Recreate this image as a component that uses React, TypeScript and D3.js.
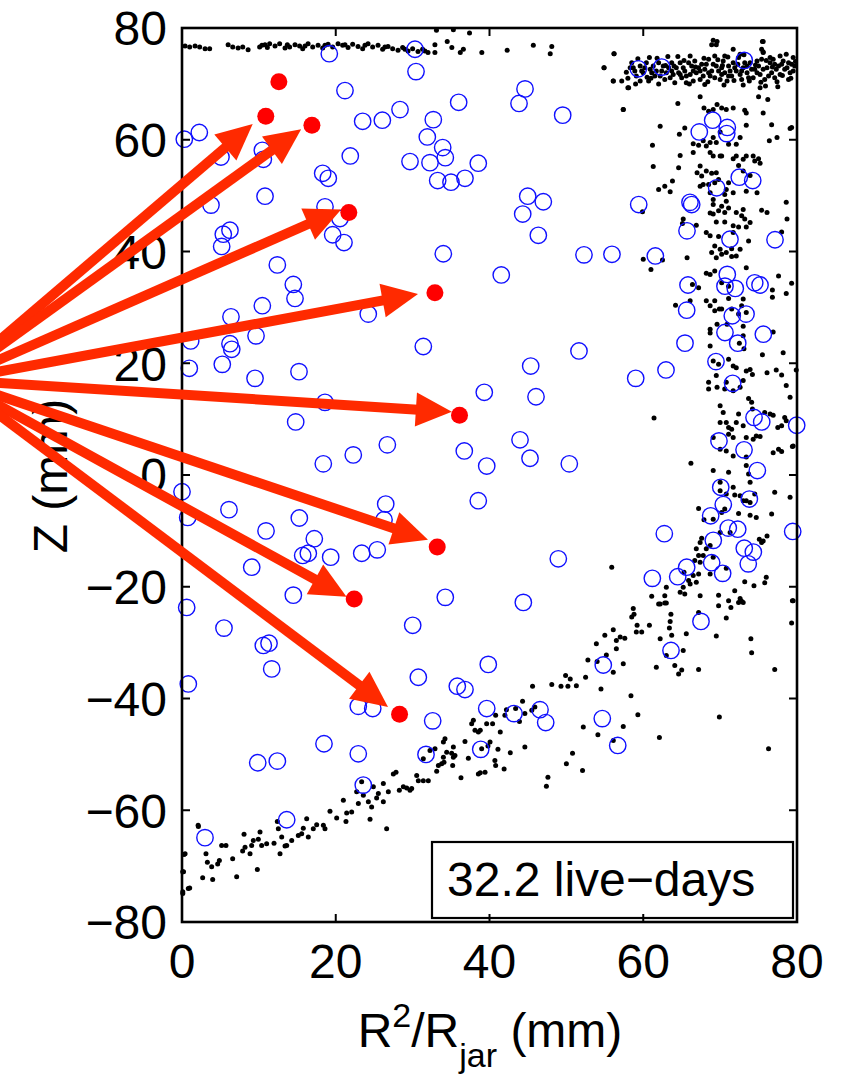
import React from "react";
import * as d3 from "d3";

const W = 848;
const H = 1079;

const xTicks = [0, 20, 40, 60, 80];
const yTicks = [-80, -60, -40, -20, 0, 20, 40, 60, 80];
const legendText = "32.2 live\u2212days";

// red reconstructed positions
const redDots: [number, number][] = [
  [12.6, 70.4], [10.9, 64.2], [16.9, 62.6], [21.7, 47.0], [32.9, 32.6],
  [36.1, 10.7], [33.2, -12.9], [22.4, -22.2], [28.3, -42.8],
];
// arrow source and tips
const arrowOrigin: [number, number] = [-29.8, 17.0];
const arrowTips: [number, number][] = [
  [9.2, 62.8], [15.5, 61.9], [20.7, 47.5], [30.7, 32.4],
  [35.1, 11.3], [32.0, -11.6], [21.4, -21.8], [26.8, -41.5],
];

// blue circles (events)
const blueEvents: [number, number][] = [
  [0.3, 60.1], [2.25, 61.3], [5.07, 56.9], [10.45, 58.1], [10.58, 56.5], [19.16, 75.4], [21.2, 68.8],
  [23.5, 63.3], [26.06, 63.5], [28.36, 65.4], [30.31, 76.2], [30.44, 72.2], [35.99, 66.7], [32.69, 63.6],
  [31.91, 60.5], [33.91, 58.6], [34.25, 56.8], [29.66, 56.1], [32.26, 55.9], [38.54, 55.8], [33.26, 52.7],
  [34.99, 52.4], [36.81, 53.1], [21.89, 57.1], [18.3, 54.0], [19.03, 53.1], [10.8, 49.9], [3.77, 48.3],
  [5.37, 43.1], [6.24, 43.8], [5.16, 40.9], [18.6, 48.0], [20.55, 45.9], [19.6, 43.0], [21.07, 41.6],
  [33.99, 39.6], [12.4, 37.6], [14.48, 34.1], [14.7, 31.6], [10.45, 30.3], [6.37, 28.3], [24.23, 28.8],
  [59.36, 72.7], [62.4, 73.0], [73.14, 74.2], [44.62, 69.1], [43.84, 66.5], [49.52, 64.4], [69.03, 63.5],
  [67.29, 61.4], [70.93, 62.2], [70.86, 61.1], [72.49, 53.3], [74.24, 52.7], [69.55, 51.4], [44.97, 49.9],
  [47.0, 48.9], [44.32, 46.7], [46.35, 42.9], [59.41, 48.4], [66.3, 48.4], [66.08, 48.8], [65.69, 43.7],
  [71.28, 42.2], [77.14, 42.1], [52.29, 39.4], [55.93, 39.5], [61.57, 39.2], [41.53, 35.8], [65.82, 34.0],
  [70.93, 35.9], [70.63, 33.8], [71.97, 33.4], [74.5, 34.4], [75.19, 34.0], [65.65, 29.5], [71.58, 28.5],
  [73.37, 28.8],
  [1.13, 24.0], [6.24, 23.5], [6.47, 22.5], [9.63, 24.9], [0.95, 19.1], [5.24, 19.8], [9.5, 17.3],
  [15.22, 18.5], [31.39, 23.0], [18.6, 13.0], [14.79, 9.5], [26.71, 5.4], [22.28, 3.6], [18.38, 2.0],
  [36.72, 4.3], [39.32, 14.8], [39.64, 1.6], [38.54, -4.6], [0.0, -3.0], [0.74, -7.6], [6.11, -6.2],
  [15.26, -7.7], [10.93, -10.0], [17.21, -11.4], [15.7, -14.4], [16.43, -14.0], [19.34, -14.7],
  [23.38, -14.0], [25.4, -13.4], [26.5, -5.2], [26.28, -8.0], [9.07, -16.5], [14.48, -21.5],
  [34.25, -21.9], [0.61, -23.7],
  [70.63, 25.5], [72.29, 23.6], [75.62, 25.2], [65.43, 23.6], [51.64, 22.2], [45.36, 19.5], [46.05, 14.0],
  [59.02, 17.3], [62.96, 18.8], [69.46, 20.3], [71.63, 16.4], [43.97, 6.3], [45.27, 3.0], [50.38, 2.0],
  [74.41, 10.3], [75.41, 9.5], [79.96, 8.9], [69.85, 6.1], [73.11, 4.5], [74.84, 0.8], [70.08, -2.2],
  [73.8, -4.3], [70.41, -5.3], [68.77, -7.3], [71.06, -9.5], [72.29, -9.7], [62.74, -10.5], [79.44, -10.1],
  [69.11, -11.7], [73.14, -13.1], [74.32, -13.8], [68.9, -15.7], [73.66, -15.9], [70.33, -17.6],
  [65.65, -16.5], [64.48, -18.2], [61.18, -18.5], [48.95, -15.0], [44.4, -22.8],
  [5.46, -27.4], [10.58, -30.5], [11.32, -30.1], [11.67, -34.7], [0.82, -37.4], [30.01, -26.9],
  [30.74, -36.2], [22.93, -41.4], [24.81, -41.8], [35.81, -37.8], [36.81, -38.4], [39.84, -33.9],
  [39.64, -41.8], [32.61, -44.0], [18.47, -48.1], [22.93, -49.9], [9.85, -51.5], [12.4, -51.2],
  [31.74, -50.0], [38.86, -49.1], [23.58, -55.5], [13.62, -61.7], [2.99, -64.9],
  [67.51, -26.2], [63.61, -31.4], [54.8, -34.0], [43.19, -42.7], [46.57, -42.0], [47.31, -44.3],
  [54.67, -43.6], [56.68, -48.4],
];

// black dots: top band
const topBandDots: [number, number][] = [
  [0.4, 76.8], [1.0, 76.6], [1.7, 76.8], [2.3, 76.6], [3.0, 76.3], [3.6, 76.3],
  [6.0, 77.0], [6.6, 76.6], [7.3, 76.4], [7.9, 76.6], [8.6, 76.1],
  [10.1, 76.6], [10.4, 76.9], [10.8, 77.0], [11.1, 76.5], [11.4, 77.2], [12.1, 76.8], [12.7, 77.2],
  [13.4, 76.4], [13.7, 77.0], [14.0, 76.6], [14.7, 77.0], [15.3, 76.8], [15.7, 76.3], [16.0, 76.8],
  [16.4, 77.2], [17.0, 76.6], [17.7, 76.9], [18.3, 76.4], [18.6, 76.9], [19.0, 77.1], [19.6, 76.6],
  [20.3, 77.2], [20.9, 76.9], [21.2, 77.0], [21.6, 76.5], [22.2, 77.1], [22.9, 76.7], [23.5, 76.3],
  [23.8, 76.9], [24.2, 77.2], [24.8, 76.6], [25.5, 76.9], [26.1, 76.2], [26.4, 76.6], [26.8, 76.7],
  [27.4, 76.3], [28.1, 76.0], [28.7, 76.5], [29.0, 76.2], [29.4, 75.9], [30.0, 76.3], [30.7, 75.8],
  [31.3, 76.2], [31.6, 75.9], [32.0, 75.6],
  [32.9, 77.0], [32.9, 75.6], [34.5, 77.6], [35.1, 76.5], [36.2, 75.6], [36.6, 76.2],
  [33.1, 79.6], [35.3, 79.7], [37.4, 79.1],
  [39.0, 75.6], [42.3, 76.0], [45.7, 76.9], [47.9, 75.4], [48.1, 76.7], [56.2, 75.4], [54.9, 72.9],
  [56.1, 70.5], [57.4, 65.4], [58.0, 69.3],
];

// black dots: top-right cluster
const topClusterDots: [number, number][] = [
  [54.9, 72.9], [56.2, 75.4], [56.1, 70.5], [57.2, 70.5], [57.8, 72.1], [58.1, 69.3], [57.4, 65.4],
  [58.5, 73.8], [58.9, 72.3], [59.6, 73.2], [60.0, 72.0], [60.4, 73.8], [59.6, 70.5], [60.7, 70.5],
  [60.9, 72.6], [61.5, 71.4], [62.0, 73.8], [62.4, 72.3], [62.8, 70.8], [63.3, 72.9], [63.7, 73.8],
  [63.9, 71.7], [64.1, 70.2], [63.5, 71.1], [64.6, 72.0], [64.8, 73.8], [65.2, 72.9], [65.6, 71.4],
  [66.1, 75.0], [66.3, 73.2], [66.7, 74.1], [66.9, 72.0], [67.4, 70.8], [67.6, 73.5], [66.5, 70.5],
  [65.6, 70.2], [68.0, 72.6], [68.5, 74.4], [68.7, 71.4], [69.1, 73.5], [69.3, 75.0], [69.8, 72.3],
  [70.0, 70.8], [70.4, 74.1], [70.6, 72.0], [71.1, 73.2], [70.9, 70.5], [69.5, 77.0], [68.9, 77.0],
  [71.5, 71.4], [71.7, 73.8], [72.1, 72.3], [72.4, 74.7], [72.8, 70.8], [73.0, 72.9], [73.5, 72.0],
  [73.9, 73.8], [74.3, 71.1], [74.5, 72.6], [71.7, 76.2], [72.6, 75.3], [75.0, 73.2], [75.2, 71.7],
  [75.4, 74.4], [75.6, 77.6], [75.8, 70.8], [76.1, 72.9], [76.5, 73.8], [76.7, 72.0], [76.9, 74.4],
  [77.1, 71.1], [75.4, 76.2], [75.6, 75.6], [77.6, 73.2], [77.8, 71.7], [78.2, 74.1], [78.4, 72.6],
  [78.9, 73.8], [79.1, 72.0], [79.5, 74.7], [79.7, 73.2], [78.9, 70.8], [77.8, 75.0],
  [58.3, 72.9], [59.1, 71.4], [60.2, 72.9], [61.3, 73.2], [61.7, 72.3], [62.2, 71.4], [62.6, 73.2],
  [63.0, 72.0], [64.3, 72.9], [65.0, 71.1], [65.4, 72.3], [65.9, 73.8], [66.5, 72.3], [67.2, 72.9],
  [67.8, 71.4], [68.2, 73.5], [68.9, 72.3], [69.3, 71.1], [69.5, 73.2], [70.2, 72.9], [70.6, 75.0],
  [71.3, 72.3], [71.9, 72.9], [72.6, 71.7], [73.2, 73.8], [73.7, 71.1], [74.1, 72.6], [74.8, 74.1],
  [74.8, 72.0], [75.6, 72.6], [76.3, 71.4], [76.5, 74.7], [77.3, 72.6], [78.0, 73.5], [78.7, 72.9],
  [79.3, 73.5], [79.5, 72.3], [77.1, 73.5], [73.5, 73.2], [72.8, 72.3], [71.1, 71.4], [70.2, 71.7],
  [68.5, 72.0], [67.4, 72.3], [66.1, 71.7], [64.8, 71.7], [63.7, 72.3], [61.1, 72.0], [59.8, 72.3],
  [58.7, 72.9],
  [58.0, 71.0], [59.3, 74.5], [60.5, 71.2], [61.8, 74.6], [62.0, 70.0], [63.2, 74.9], [64.0, 73.2],
  [65.3, 74.2], [66.0, 70.0], [66.8, 73.0], [67.9, 74.6], [68.4, 70.4], [69.7, 74.3], [70.3, 73.3],
  [71.0, 74.8], [71.8, 70.6], [72.3, 73.5], [73.1, 75.2], [73.8, 70.5], [74.6, 73.4], [75.3, 70.3],
  [76.0, 74.2], [76.8, 73.0], [77.4, 70.4], [78.1, 71.5], [78.6, 75.3], [79.2, 71.0], [79.8, 74.0],
  [73.0, 69.8], [70.5, 69.8], [68.0, 69.9], [75.9, 69.6], [77.5, 69.5], [64.5, 74.9], [62.9, 73.3],
  [60.8, 74.7], [61.0, 71.0], [59.0, 70.0],
];

// black dots: right vertical band
const rightBandDots: [number, number][] = [
  [69.1, 77.8], [69.6, 77.6], [75.5, 77.6], [75.6, 75.7], [62.2, 62.4], [61.2, 59.0], [61.3, 55.2],
  [64.5, 66.5], [64.7, 61.0], [64.8, 57.2], [64.6, 55.0], [63.8, 52.6], [62.8, 51.7], [62.0, 51.1],
  [63.5, 50.7], [59.9, 47.1], [60.0, 38.6], [61.0, 36.8], [62.5, 38.5], [65.7, 38.9], [65.2, 45.8],
  [65.1, 45.0], [66.9, 44.7], [66.4, 34.1], [67.2, 33.5], [68.2, 36.1], [64.2, 30.4], [66.1, 31.2],
  [68.7, 30.3], [69.9, 29.7], [67.4, 67.7], [67.9, 65.7], [68.5, 65.1], [69.1, 65.4], [69.6, 66.3],
  [70.2, 65.7], [70.8, 65.4], [71.7, 65.7], [73.2, 65.3], [73.4, 64.8], [75.6, 64.8], [75.0, 67.7],
  [75.2, 69.3], [76.2, 67.2], [73.4, 62.6], [70.0, 61.4], [76.7, 62.7], [79.1, 62.0], [77.4, 60.4],
  [76.4, 59.8], [65.4, 62.1], [66.5, 59.3], [67.2, 59.0], [67.8, 59.8], [68.2, 58.9], [68.7, 59.5],
  [69.1, 60.4], [69.5, 59.5], [71.1, 59.2], [72.1, 59.2], [72.6, 60.4], [71.7, 56.6], [70.0, 57.1],
  [69.1, 57.1], [68.7, 57.7], [66.5, 57.7], [67.4, 55.3], [67.0, 54.1], [67.6, 53.5], [68.2, 54.4],
  [68.9, 54.0], [69.5, 54.1], [70.2, 57.1], [72.1, 57.1], [73.0, 56.5], [73.4, 57.1], [74.3, 57.1],
  [74.5, 56.2], [75.0, 56.6], [75.2, 55.8], [72.4, 55.4], [73.0, 54.4], [73.9, 53.6], [74.8, 50.5],
  [73.4, 50.8], [71.7, 50.5], [71.1, 52.3], [70.8, 51.1], [70.6, 50.2], [70.8, 49.0], [71.1, 47.8],
  [70.6, 47.0], [70.2, 48.1], [69.8, 47.3], [69.1, 48.4], [69.1, 46.7], [68.7, 50.5], [68.7, 46.9],
  [69.3, 52.3], [69.8, 52.9], [67.4, 51.7], [67.8, 52.0], [68.5, 52.0], [69.1, 49.3], [69.5, 45.3],
  [70.6, 45.3], [72.1, 47.0], [72.8, 46.4], [73.2, 45.8], [73.0, 47.5], [71.7, 44.6], [72.4, 44.4],
  [73.4, 44.4], [73.9, 45.2], [73.7, 41.9], [72.6, 40.4], [71.5, 40.5], [72.1, 39.2], [70.8, 39.8],
  [70.0, 40.4], [69.3, 41.0], [69.5, 38.9], [70.2, 39.5], [71.5, 39.1], [68.2, 43.4], [68.7, 42.8],
  [68.9, 39.8], [69.8, 42.7], [71.7, 43.4], [75.4, 47.4], [76.1, 47.0], [78.6, 48.8], [78.7, 45.8],
  [78.0, 43.5], [78.6, 32.5], [79.3, 34.3], [76.8, 33.1], [76.8, 31.8], [77.6, 35.6], [73.4, 37.1],
  [70.2, 34.4], [71.1, 33.8], [69.3, 36.5], [68.7, 35.9], [69.3, 31.2], [71.1, 31.6], [72.8, 30.3],
  [73.0, 31.5], [71.5, 29.7], [72.4, 28.8], [68.2, 31.2], [70.2, 29.7], [79.3, 62.2],
  [69.3, 29.4], [68.7, 26.1], [68.7, 25.4], [69.6, 27.0], [70.9, 27.0], [73.0, 26.6], [73.4, 29.1],
  [73.0, 24.9], [72.5, 23.6], [73.1, 22.6], [76.9, 25.6], [78.2, 21.9], [75.5, 21.5], [68.7, 23.1],
  [69.1, 20.4], [69.8, 19.8], [71.1, 20.7], [71.7, 19.5], [72.1, 19.2], [73.9, 18.9], [73.4, 18.6],
  [74.2, 18.0], [73.0, 16.9], [72.6, 15.7], [71.7, 15.1], [70.6, 15.4], [69.6, 15.7], [68.5, 16.6],
  [68.5, 15.4], [69.5, 17.8], [70.8, 16.6], [76.1, 18.3], [77.3, 18.8], [78.0, 17.9], [78.6, 16.0],
  [79.1, 13.9], [79.9, 18.8], [70.0, 12.4], [70.4, 11.2], [72.4, 10.9], [73.7, 13.7], [74.1, 13.0],
  [74.2, 11.8], [75.8, 11.2], [76.5, 10.9], [76.9, 10.7], [78.4, 10.3], [78.6, 9.7], [77.5, 8.5],
  [78.0, 8.8], [76.9, 4.0], [77.6, 4.6], [78.0, 4.2], [79.4, 5.1], [70.0, 9.4], [70.8, 9.4],
  [71.1, 8.5], [71.5, 8.2], [72.1, 9.4], [73.0, 8.8], [73.4, 6.7], [74.3, 6.4], [74.7, 7.0],
  [75.2, 6.9], [71.1, 7.3], [71.7, 6.7], [69.1, 6.7], [70.0, 4.6], [70.8, 4.3], [71.7, 3.4],
  [73.4, 3.2], [73.4, 1.7], [71.1, 0.5], [69.1, 0.8], [73.9, -1.3], [73.7, 0.2], [70.0, -1.3],
  [71.7, -2.2], [71.9, -3.6], [70.8, -3.4], [70.0, -2.8], [72.6, -3.7], [73.4, -4.6], [73.9, -4.9],
  [73.0, -4.6], [74.5, -3.4], [77.1, -3.1], [79.1, -4.0], [76.7, -7.0], [74.7, -7.6], [73.9, -7.2],
  [72.4, -6.9], [70.6, -6.1], [70.2, -6.7], [67.2, -6.0], [67.9, -8.0], [69.1, -7.9], [71.3, -10.3],
  [70.0, -10.3], [67.6, -11.3], [66.9, -13.2], [67.2, -14.4], [67.4, -12.1], [66.7, -15.3],
  [67.4, -15.6], [69.1, -14.7], [70.8, -16.7], [68.7, -17.7], [67.2, -17.7], [66.9, -19.2],
  [66.1, -19.5], [65.2, -20.1], [64.8, -21.0], [65.4, -21.3], [63.0, -20.1], [62.8, -21.6],
  [61.1, -21.7], [62.0, -23.1], [62.8, -22.9], [67.4, -21.6], [69.8, -21.5], [71.1, -22.5],
  [72.6, -22.1], [73.0, -22.8], [71.9, -20.7], [73.2, -19.1], [74.4, -19.8], [75.8, -19.3],
  [76.0, -18.3], [75.6, -11.8], [75.1, -11.5], [75.4, -12.1], [76.1, -10.9], [79.4, -22.5],
  [79.5, 5.2], [55.9, -16.5], [66.2, 2.1], [61.4, 10.2], [68.2, -13.2], [68.7, -12.6], [67.8, -14.4],
  [66.5, -18.0], [65.9, -18.9], [65.3, -17.4],
];

// black dots: lower curved band
const bottomCurveDots: [number, number][] = [
  [0.26, -67.9], [0.09, -71.0], [0.1, -74.6], [0.82, -74.0], [2.13, -62.9], [2.69, -72.1],
  [3.12, -67.8], [3.3, -69.3], [3.86, -70.1], [3.99, -72.4], [4.64, -69.6], [4.86, -69.0],
  [5.16, -66.3], [5.72, -66.3], [6.59, -68.7], [7.11, -71.9], [7.89, -67.3], [8.07, -64.3],
  [8.2, -66.6], [8.85, -67.8], [9.06, -66.3], [9.28, -65.4], [9.8, -70.6], [9.93, -65.2],
  [10.15, -63.9], [10.36, -66.3], [11.01, -66.0], [11.97, -65.9], [12.4, -62.0], [12.53, -63.3],
  [12.75, -67.8], [12.97, -64.8], [13.4, -66.4], [13.62, -66.3], [14.27, -65.4], [15.13, -64.5],
  [15.57, -64.2], [15.78, -63.2], [16.22, -61.5], [16.43, -64.8], [17.08, -63.3], [17.52, -62.6],
  [18.39, -62.7], [18.6, -63.3], [19.25, -60.2], [20.12, -61.4], [20.99, -58.2], [21.33, -62.0],
  [21.42, -60.5], [22.07, -60.3], [22.72, -56.7], [22.94, -58.8], [23.37, -54.9], [23.59, -57.3],
  [24.24, -58.5], [24.46, -61.6], [24.67, -59.4], [24.89, -55.8], [25.32, -57.8], [25.54, -57.0],
  [26.19, -58.5], [26.19, -55.2], [26.62, -63.3], [26.84, -56.7], [27.49, -53.5], [27.84, -53.2],
  [28.27, -56.4], [28.79, -55.8], [29.23, -56.0], [29.66, -56.4], [29.88, -56.1], [30.53, -53.8],
  [30.74, -54.7], [31.39, -54.7], [32.04, -54.7], [31.39, -50.8], [32.26, -49.3], [32.91, -49.0],
  [33.13, -53.0], [33.35, -52.0], [33.78, -51.7], [34.0, -50.5], [34.0, -47.8], [34.21, -47.2],
  [34.43, -49.6], [35.08, -49.8], [35.3, -50.5], [35.51, -50.2], [35.21, -52.0], [36.29, -54.2],
  [36.81, -47.7], [37.25, -50.7], [37.68, -44.5], [37.9, -43.9], [38.11, -45.7], [38.55, -46.0],
  [38.55, -53.5], [38.98, -49.0], [39.42, -53.2], [39.63, -44.5], [40.07, -47.8], [34.08, -51.4],
  [35.3, -48.7], [0.4, -67.8], [0.2, -71.0], [1.0, -73.9], [0.1, -74.9], [2.1, -62.7],
  [79.5, -22.5], [79.3, -26.5], [72.8, -22.6], [72.4, -22.8], [71.4, -23.7], [70.8, -25.6],
  [69.8, -23.4], [69.5, -28.8], [74.0, -29.3], [74.1, -31.8], [77.1, -34.8], [67.2, -24.6],
  [67.2, -34.8], [65.6, -28.4], [65.2, -31.4], [65.0, -34.9], [64.6, -35.6], [64.1, -34.1],
  [63.6, -24.9], [63.5, -26.2], [63.4, -27.4], [63.7, -28.7], [63.0, -32.3], [62.2, -23.1],
  [63.0, -22.9], [62.2, -29.3], [61.7, -34.4], [60.8, -26.9], [59.8, -28.1], [59.1, -28.1],
  [59.2, -26.9], [58.7, -23.9], [58.8, -24.9], [58.5, -25.4], [57.6, -29.2], [57.4, -33.8],
  [56.5, -29.6], [56.1, -27.7], [57.0, -29.0], [56.5, -31.1], [56.1, -35.3], [55.2, -32.2],
  [55.0, -28.7], [53.9, -30.2], [54.0, -33.4], [54.5, -38.3], [52.8, -33.1], [52.5, -36.2],
  [51.3, -37.7], [50.2, -37.8], [50.5, -36.5], [49.9, -35.9], [49.3, -37.8], [48.1, -37.5],
  [45.6, -37.8], [44.3, -40.5], [44.6, -42.7], [45.9, -41.5], [45.5, -42.1], [43.9, -44.1],
  [43.4, -41.8], [42.2, -42.0], [42.0, -43.0], [41.4, -46.0], [41.1, -49.1], [40.8, -43.0],
  [40.4, -44.5], [39.8, -48.5], [38.8, -45.7], [38.8, -53.3], [40.7, -51.1], [40.8, -52.0],
  [41.9, -52.6], [42.7, -49.7], [44.6, -48.7], [47.6, -54.1], [47.4, -55.7], [50.0, -51.7],
  [50.8, -49.8], [52.1, -52.9], [52.2, -45.1], [54.1, -46.5], [56.1, -47.5], [57.4, -45.0],
  [58.4, -39.5], [59.3, -42.9], [62.1, -47.0], [69.9, -43.3], [76.3, -49.0],
];

const FONT = "'Liberation Sans', Arial, Helvetica, sans-serif";

export default function App() {
  const x = d3.scaleLinear().domain([0, 80]).range([182, 797]);
  const y = d3.scaleLinear().domain([-80, 80]).range([922, 28]);
  const [x0, x1] = x.range();
  const [y0, y1] = y.range();
  const tickLen = 8;
  const fmt = (v: number) => (v < 0 ? "\u2212" + Math.abs(v) : String(v));

  const blackAll = [...topBandDots, ...topClusterDots, ...rightBandDots, ...bottomCurveDots];

  const ox = x(arrowOrigin[0]);
  const oy = y(arrowOrigin[1]);
  const headLen = 36;
  const headHalf = 17;
  const arrows = arrowTips.map(([tx, ty]) => {
    const px = x(tx);
    const py = y(ty);
    const dx = px - ox;
    const dy = py - oy;
    const len = Math.hypot(dx, dy);
    const ux = dx / len;
    const uy = dy / len;
    const bx = px - ux * headLen;
    const by = py - uy * headLen;
    const nx = -uy;
    const ny = ux;
    const head = [
      [px, py],
      [bx + nx * headHalf, by + ny * headHalf],
      [bx - nx * headHalf, by - ny * headHalf],
    ];
    return { bx: bx + ux * 2, by: by + uy * 2, head: d3.line()(head as [number, number][]) + "Z" };
  });

  return (
    <svg
      width={W}
      height={H}
      style={{ position: "absolute", left: 0, top: 0, background: "#fff" }}
      fontFamily={FONT}
    >
      <rect x={0} y={0} width={W} height={H} fill="#fff" />

      {/* black dots */}
      {blackAll.map(([a, b], i) => (
        <circle key={"k" + i} cx={x(a)} cy={y(b)} r={2.5} fill="#000" />
      ))}

      {/* blue events */}
      {blueEvents.map(([a, b], i) => (
        <circle key={"b" + i} cx={x(a)} cy={y(b)} r={8.2} fill="none" stroke="#1010ff" strokeWidth={1.4} />
      ))}

      {/* legend box */}
      <rect x={432} y={842} width={361} height={76} fill="#fff" stroke="#000" strokeWidth={2.2} />
      <text x={447} y={896} fontSize={48} fill="#000">{legendText}</text>

      {/* axes box */}
      <rect x={x0} y={y1} width={x1 - x0} height={y0 - y1} fill="none" stroke="#000" strokeWidth={2.6} />
      {xTicks.map((t) => (
        <g key={"xt" + t}>
          <line x1={x(t)} x2={x(t)} y1={y0} y2={y0 - tickLen} stroke="#000" strokeWidth={2} />
          <line x1={x(t)} x2={x(t)} y1={y1} y2={y1 + tickLen} stroke="#000" strokeWidth={2} />
          <text x={x(t)} y={978} fontSize={48} textAnchor="middle" fill="#000">{fmt(t)}</text>
        </g>
      ))}
      {yTicks.map((t) => (
        <g key={"yt" + t}>
          <line x1={x0} x2={x0 + tickLen} y1={y(t)} y2={y(t)} stroke="#000" strokeWidth={2} />
          <line x1={x1} x2={x1 - tickLen} y1={y(t)} y2={y(t)} stroke="#000" strokeWidth={2} />
          <text x={167} y={y(t)} dy="0.36em" fontSize={48} textAnchor="end" fill="#000">{fmt(t)}</text>
        </g>
      ))}

      {/* axis titles */}
      <text x={490} y={1047} fontSize={48} textAnchor="middle" fill="#000">
        R<tspan fontSize={34} dy={-20}>2</tspan>
        <tspan dy={20}>/R</tspan>
        <tspan fontSize={34} dy={20}>jar</tspan>
        <tspan dy={-20}> (mm)</tspan>
      </text>
      <text transform="translate(67,476) rotate(-90)" fontSize={48} textAnchor="middle" fill="#000">
        Z (mm)
      </text>

      {/* red reconstructed points */}
      {redDots.map(([a, b], i) => (
        <circle key={"r" + i} cx={x(a)} cy={y(b)} r={8.5} fill="#ff0000" />
      ))}

      {/* arrows */}
      {arrows.map((a, i) => (
        <g key={"a" + i}>
          <line x1={ox} y1={oy} x2={a.bx} y2={a.by} stroke="#ff2a00" strokeWidth={10} />
          <path d={a.head} fill="#ff2a00" />
        </g>
      ))}
    </svg>
  );
}
